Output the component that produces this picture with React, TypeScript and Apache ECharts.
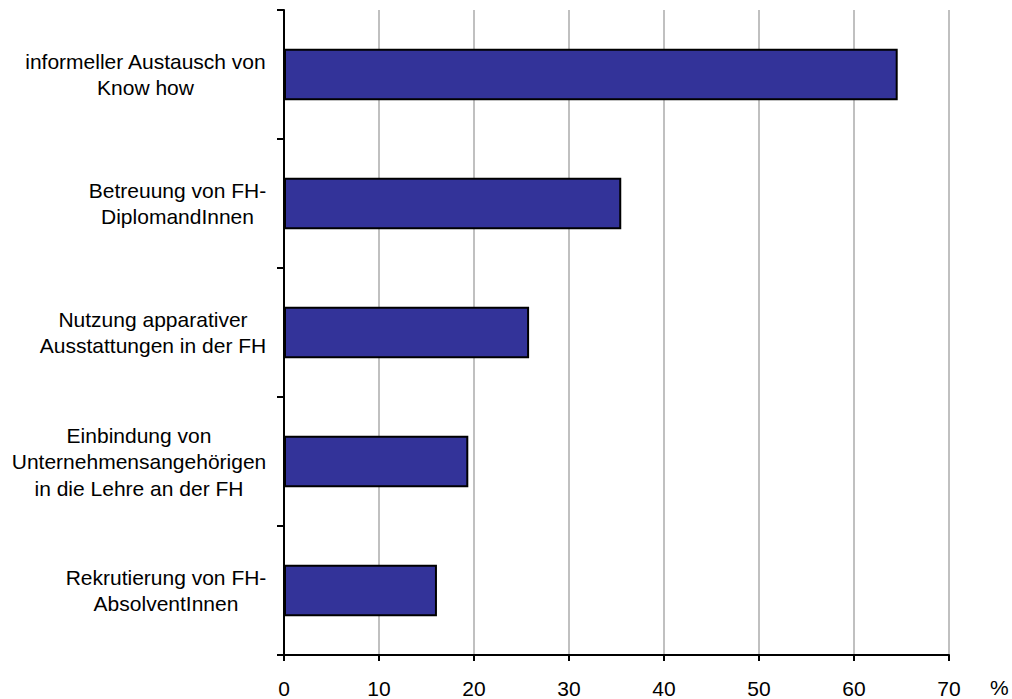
import React, { useEffect, useRef } from "react";
import * as echarts from "echarts";

const categories: string[] = [
  "informeller Austausch von\nKnow how",
  "Betreuung von FH-\nDiplomandInnen",
  "Nutzung apparativer\nAusstattungen in der FH",
  "Einbindung von\nUnternehmensangehörigen\nin die Lehre an der FH",
  "Rekrutierung von FH-\nAbsolventInnen",
];
const values: number[] = [64.6, 35.5, 25.8, 19.4, 16.1];
const xMin = 0;
const xMax = 70;
const xInterval = 10;
const unitLabel = "%";

const FONT = '"Liberation Sans", Arial, Helvetica, sans-serif';
const FS = 21;

function measure(text: string): number {
  const c = document.createElement("canvas");
  const ctx = c.getContext("2d");
  if (!ctx) return text.length * FS * 0.5;
  ctx.font = `${FS}px "Liberation Sans", Arial, sans-serif`;
  return ctx.measureText(text).width;
}

export default function App() {
  const ref = useRef<HTMLDivElement>(null);
  useEffect(() => {
    if (!ref.current) return;
    const chart = echarts.init(ref.current, undefined, { renderer: "svg" });
    const rich: Record<string, any> = {};
    categories.forEach((c, i) => {
      const w = Math.max(...c.split("\n").map(measure));
      rich["r" + i] = {
        width: Math.ceil(w) + 1,
        align: "center",
        fontSize: FS,
        lineHeight: 26.5,
        fontFamily: FONT,
        color: "#000",
      };
    });
    chart.setOption({
      animation: false,
      grid: { left: 284, right: 63, top: 10, bottom: 39, containLabel: false },
      xAxis: {
        type: "value",
        min: xMin,
        max: xMax,
        interval: xInterval,
        axisLine: { show: true, lineStyle: { color: "#000", width: 2 } },
        axisTick: { show: true, length: 6, lineStyle: { color: "#000", width: 2 } },
        splitLine: { show: true, lineStyle: { color: "#c0c0c0", width: 2 } },
        axisLabel: { fontSize: FS, fontFamily: FONT, color: "#000", margin: 23 },
      },
      yAxis: {
        type: "category",
        inverse: true,
        data: categories,
        axisLine: { show: true, lineStyle: { color: "#000", width: 2 } },
        axisTick: { show: true, length: 7, lineStyle: { color: "#000", width: 2 } },
        axisLabel: {
          margin: 17,
          align: "right",
          formatter: (v: string) => {
            const i = categories.indexOf(v);
            return v
              .split("\n")
              .map((l) => `{r${i}|${l}}`)
              .join("\n");
          },
          rich,
        },
      },
      graphic: [
        {
          type: "text",
          left: 990,
          top: 677,
          style: { text: unitLabel, fontSize: FS, fontFamily: FONT, fill: "#000" },
        },
      ],
      series: [
        {
          type: "bar",
          data: values,
          barWidth: "40%",
          itemStyle: { color: "#333399", borderColor: "#000", borderWidth: 2 },
        },
      ],
    });
    return () => chart.dispose();
  }, []);
  return (
    <div
      ref={ref}
      style={{ position: "fixed", left: 0, top: 0, width: 1012, height: 699, background: "#fff" }}
    />
  );
}
